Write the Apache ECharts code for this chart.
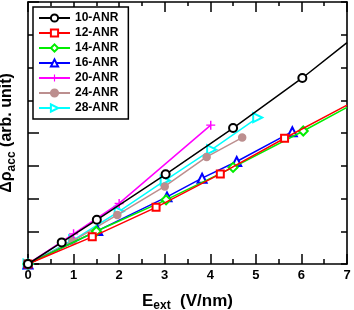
<!DOCTYPE html>
<html><head><meta charset="utf-8">
<script src="https://cdn.jsdelivr.net/npm/echarts@6/dist/echarts.min.js"></script>
<style>html,body{margin:0;padding:0;background:#fff}#c{width:354px;height:310px}</style>
</head><body><div id="c"></div>
<script>
// Data: [E_ext (V/nm), delta rho (arb. unit)]
const seriesNames = ['10-ANR','12-ANR','14-ANR','16-ANR','20-ANR','24-ANR','28-ANR'];
const xTicks = [0,1,2,3,4,5,6,7];
const anr10 = [[0,0],[0.74,0.66],[1.51,1.35],[3.02,2.74],[4.5,4.15],[6.02,5.68],[7,6.76]];
const anr12 = [[0,0],[1.41,0.83],[2.81,1.73],[4.22,2.75],[5.63,3.84],[7,4.85]];
const anr14 = [[0,0],[1.5,1.0],[3.03,1.96],[4.5,2.95],[6.04,4.06],[7,4.78]];
const anr16 = [[0,0],[1.53,1.02],[3.05,2.05],[3.82,2.62],[4.58,3.13],[5.8,4.04]];
const anr20 = [[0,0],[1.0,0.92],[2.0,1.85],[4.01,4.24]];
const anr24 = [[0,0],[0.98,0.7],[1.96,1.5],[3.0,2.37],[3.92,3.27],[4.7,3.86]];
const anr28 = [[0,0],[1.0,0.74],[2.0,1.61],[3.01,2.55],[4.03,3.49],[5.04,4.47]];
// series whose line continues to the frame edge without a marker there
const hiddenEndSeries = ['10-ANR','12-ANR','14-ANR'];

const colors = ['#000000','#ff0000','#00ee00','#0000ff','#ff00ff','#bc8f8f','#00ffff'];
const symbols = ['emptyCircle','emptyRect','emptyDiamond','emptyTriangle',
  'path://M4.2,0 H5.8 V4.2 H10 V5.8 H5.8 V10 H4.2 V5.8 H0 V4.2 H4.2 Z','circle','emptyTriangle'];
const symbolSizes = [8,7,9,9,9,7,9];
const symbolRotates = [0,0,0,0,0,0,-90];
const allData = [anr10,anr12,anr14,anr16,anr20,anr24,anr28];

const chart = echarts.init(document.getElementById('c'), null, {renderer:'canvas'});
const FONT = 'Liberation Sans';
const series = seriesNames.map((name,i)=>{
  const d = allData[i].map((p,j)=>{
    const last = j===allData[i].length-1;
    if (last && hiddenEndSeries.includes(name)) return {value:p, symbol:'none'};
    return {value:p};
  });
  const isPath = symbols[i].startsWith('path');
  return {
    name, type:'line', data:d, xAxisIndex:0, yAxisIndex:0,
    symbol: symbols[i], symbolSize: symbolSizes[i], symbolRotate: symbolRotates[i],
    showAllSymbol:true,
    lineStyle:{color:colors[i], width:1.5},
    itemStyle:{color:colors[i], borderColor:colors[i], borderWidth: isPath ? 0 : 1.5},
    emphasis:{disabled:true}, animation:false, z: 10-i
  };
});

const axisLine = {show:true, onZero:false, lineStyle:{color:'#000', width:1.6}};
chart.setOption({
  animation:false,
  textStyle:{fontFamily:FONT},
  grid:{left:28, top:2, width:319, height:262, containLabel:false, outerBoundsMode:'none'},
  legend:{
    orient:'vertical', left:33, top:7, data:seriesNames,
    borderColor:'#000', borderWidth:1.5, backgroundColor:'#fff',
    padding:[5,10,5,5], itemWidth:31, itemHeight:9, itemGap:3,
    textStyle:{fontFamily:FONT, fontWeight:'bold', fontSize:12, color:'#000'},
    selectedMode:false
  },
  xAxis:[{
    type:'value', min:0, max:7, interval:1, position:'bottom',
    axisLine, splitLine:{show:false},
    axisTick:{inside:true, length:10, lineStyle:{color:'#000', width:1.5}},
    minorTick:{show:true, splitNumber:2, length:5, lineStyle:{color:'#000', width:1.5}},
    axisLabel:{color:'#000', fontFamily:FONT, fontWeight:'bold', fontSize:13, margin:5},
    name:'{a|E}{s|ext}{a|  (V/nm)}', nameLocation:'middle', nameGap:26,
    nameTextStyle:{rich:{
      a:{fontFamily:FONT, fontWeight:'bold', fontSize:17, color:'#000'},
      s:{fontFamily:FONT, fontWeight:'bold', fontSize:12, color:'#000', verticalAlign:'bottom', padding:[10,0,0,0]}
    }}
  },{
    type:'value', min:0, max:7, interval:1, position:'top',
    axisLine, splitLine:{show:false},
    axisTick:{inside:true, length:10, lineStyle:{color:'#000', width:1.5}},
    minorTick:{show:true, splitNumber:2, length:4, lineStyle:{color:'#000', width:1.5}},
    axisLabel:{show:false}
  }],
  yAxis:[{
    type:'value', min:0, max:8, interval:1, position:'left',
    axisLine, splitLine:{show:false},
    axisTick:{inside:true, length:11, lineStyle:{color:'#000', width:1.5}},
    axisLabel:{show:false},
    name:'{a|Δρ}{s|acc}{a| (arb. unit)}', nameLocation:'middle', nameGap:10, nameRotate:90,
    nameTextStyle:{rich:{
      a:{fontFamily:FONT, fontWeight:'bold', fontSize:16, color:'#000'},
      s:{fontFamily:FONT, fontWeight:'bold', fontSize:12, color:'#000', verticalAlign:'bottom', padding:[10,0,0,0]}
    }}
  },{
    type:'value', min:0, max:8, interval:1, position:'right',
    axisLine, splitLine:{show:false},
    axisTick:{inside:true, length:6, lineStyle:{color:'#000', width:1.5}},
    axisLabel:{show:false}
  }],
  series
});
</script></body></html>
